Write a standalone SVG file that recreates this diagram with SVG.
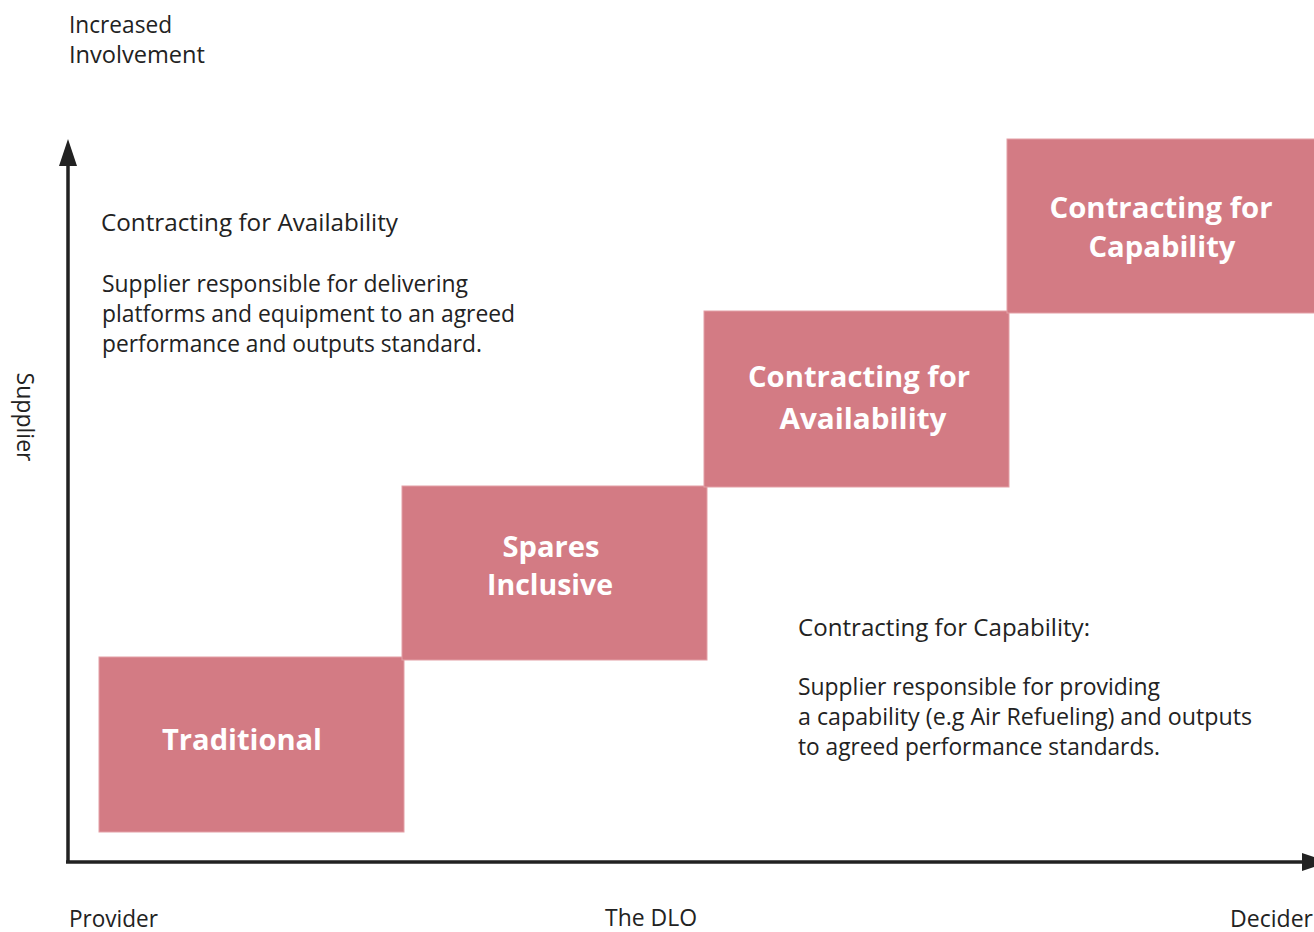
<svg xmlns="http://www.w3.org/2000/svg" width="1314" height="932" viewBox="0 0 1314 932">
<style>
  .t { font-family: "Open Sans", "Liberation Sans", sans-serif; font-size: 24px; fill: #222; }
  .b { font-family: "Open Sans", "Liberation Sans", sans-serif; font-size: 28px; font-weight: 700; fill: #fff; text-anchor: middle; }
  .box { fill: #D37B84; stroke: #E3A0A6; stroke-width: 1; }
  .axis { stroke: #222; stroke-width: 3.5; fill: none; }
</style>
<defs>
  <marker id="ah" markerUnits="userSpaceOnUse" markerWidth="28" markerHeight="18" refX="14" refY="9" orient="auto">
    <path d="M0,0 L27,9 L0,18 z" fill="#222"/>
  </marker>
</defs>
<rect width="1314" height="932" fill="#fff"/>

<g id="connectors">
  <path class="axis" d="M68,862 L68,152" marker-end="url(#ah)"/>
  <path class="axis" d="M66,862 L1316,862" marker-end="url(#ah)"/>
</g>

<g id="axis-labels">
  <text class="t" x="69" y="33" textLength="103" lengthAdjust="spacingAndGlyphs">Increased</text>
  <text class="t" x="69" y="63" textLength="136" lengthAdjust="spacingAndGlyphs">Involvement</text>
  <text class="t" x="17" y="417" text-anchor="middle" font-size="22" transform="rotate(90 17 417)" textLength="89" lengthAdjust="spacingAndGlyphs">Supplier</text>
  <text class="t" x="69" y="927" textLength="89" lengthAdjust="spacingAndGlyphs">Provider</text>
  <text class="t" x="605" y="926" textLength="92" lengthAdjust="spacingAndGlyphs">The DLO</text>
  <text class="t" x="1230" y="927" textLength="83" lengthAdjust="spacingAndGlyphs">Decider</text>
</g>

<g id="note-availability">
  <text class="t" x="101" y="231" textLength="297" lengthAdjust="spacingAndGlyphs">Contracting for Availability</text>
  <text class="t" x="102" y="292" textLength="366" lengthAdjust="spacingAndGlyphs">Supplier responsible for delivering</text>
  <text class="t" x="102" y="322" textLength="413" lengthAdjust="spacingAndGlyphs">platforms and equipment to an agreed</text>
  <text class="t" x="102" y="352" textLength="380" lengthAdjust="spacingAndGlyphs">performance and outputs standard.</text>
</g>

<g id="note-capability">
  <text class="t" x="798" y="636" textLength="292" lengthAdjust="spacingAndGlyphs">Contracting for Capability:</text>
  <text class="t" x="798" y="695" textLength="362" lengthAdjust="spacingAndGlyphs">Supplier responsible for providing</text>
  <text class="t" x="798" y="725" textLength="454" lengthAdjust="spacingAndGlyphs">a capability (e.g Air Refueling) and outputs</text>
  <text class="t" x="798" y="755" textLength="362" lengthAdjust="spacingAndGlyphs">to agreed performance standards.</text>
</g>

<g id="node-traditional">
  <rect class="box" x="99" y="657" width="305" height="175"/>
  <text class="b" x="242" y="750" textLength="160" lengthAdjust="spacingAndGlyphs">Traditional</text>
</g>

<g id="node-spares">
  <rect class="box" x="402" y="486" width="305" height="174"/>
  <text class="b" x="551" y="557" textLength="97" lengthAdjust="spacingAndGlyphs">Spares</text>
  <text class="b" x="550" y="595" textLength="126" lengthAdjust="spacingAndGlyphs">Inclusive</text>
</g>

<g id="node-availability">
  <rect class="box" x="704" y="311" width="305" height="176"/>
  <text class="b" x="859" y="387" textLength="222" lengthAdjust="spacingAndGlyphs">Contracting for</text>
  <text class="b" x="863" y="429" textLength="167" lengthAdjust="spacingAndGlyphs">Availability</text>
</g>

<g id="node-capability">
  <rect class="box" x="1007" y="139" width="310" height="174"/>
  <text class="b" x="1161" y="218" textLength="223" lengthAdjust="spacingAndGlyphs">Contracting for</text>
  <text class="b" x="1162" y="257" textLength="147" lengthAdjust="spacingAndGlyphs">Capability</text>
</g>
</svg>
